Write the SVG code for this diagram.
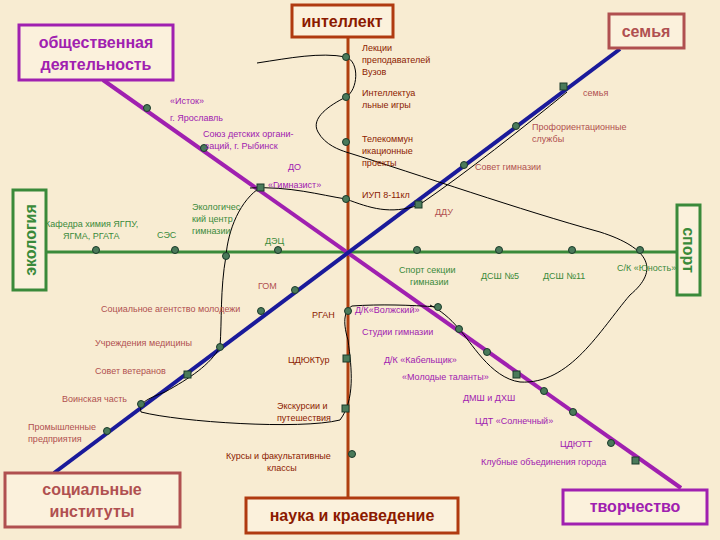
<svg xmlns="http://www.w3.org/2000/svg" width="720" height="540" viewBox="0 0 720 540">
<style>
text{font-family:"Liberation Sans",Arial,sans-serif;font-size:9px}
.p{fill:#a020b0}.r{fill:#8b1a00}.b{fill:#b05050}.g{fill:#3a8a3a}
.t{font-size:16px;font-weight:bold}
.d{fill:#4a7a5a;stroke:#1a3a2a;stroke-width:1}
.c{fill:none;stroke:#000;stroke-width:1}
</style>
<rect width="720" height="540" fill="#f8ecd2"/>
<g id="connectors">
<line x1="348" y1="37" x2="348" y2="497" stroke="#b04010" stroke-width="3"/>
<line x1="46" y1="252" x2="677" y2="252" stroke="#3a8a3a" stroke-width="3"/>
<line x1="103" y1="80" x2="681" y2="488" stroke="#a020b0" stroke-width="4"/>
<line x1="54" y1="473" x2="620" y2="49" stroke="#1a1a9a" stroke-width="4"/>
<path class="c" d="M257,63 C290,58 320,52 346,57 C360,62 358,90 346,97 C330,105 310,118 318,132 C325,145 340,150 346,152 C420,175 520,210 600,232 C650,248 660,270 630,295 C600,330 570,385 520,382 C490,378 470,340 459,329 C450,318 440,310 430,305"/>
<path class="c" d="M250,188 C290,186 320,195 346,199 C370,208 390,215 419,205 C470,170 520,130 567,92"/>
<path class="c" d="M261,187 C240,200 228,230 226,256 C220,290 222,320 220,347 C210,365 190,378 165,392 C150,398 138,402 141,412 C180,422 300,430 340,420 C355,400 352,370 348,340 C342,320 345,310 352,306 C380,304 410,305 438,307"/>
</g>
<g id="dots">
<circle class="d" cx="147" cy="108" r="3.5"/><circle class="d" cx="204" cy="148" r="3.5"/><rect class="d" x="257" y="184" width="7" height="7"/>
<circle class="d" cx="438" cy="307" r="3.5"/><circle class="d" cx="459" cy="329" r="3.5"/><circle class="d" cx="487" cy="352" r="3.5"/><rect class="d" x="513" y="371" width="7" height="7"/><circle class="d" cx="544" cy="391" r="3.5"/><circle class="d" cx="573" cy="412" r="3.5"/><circle class="d" cx="611" cy="443" r="3.5"/><rect class="d" x="632" y="457" width="7" height="7"/>
<circle class="d" cx="346" cy="57" r="3.5"/><circle class="d" cx="346" cy="97" r="3.5"/><circle class="d" cx="346" cy="142" r="3.5"/><circle class="d" cx="346" cy="199" r="3.5"/><circle class="d" cx="348" cy="311" r="3.5"/><rect class="d" x="343" y="355" width="7" height="7"/><rect class="d" x="342" y="405" width="7" height="7"/><circle class="d" cx="352" cy="454" r="3.5"/>
<circle class="d" cx="96" cy="250" r="3.5"/><circle class="d" cx="175" cy="250" r="3.5"/><circle class="d" cx="226" cy="256" r="3.5"/><circle class="d" cx="278" cy="250" r="3.5"/><circle class="d" cx="417" cy="250" r="3.5"/><circle class="d" cx="499" cy="250" r="3.5"/><circle class="d" cx="572" cy="250" r="3.5"/><circle class="d" cx="640" cy="250" r="3.5"/>
<rect class="d" x="560" y="83" width="7" height="7"/><circle class="d" cx="516" cy="126" r="3.5"/><circle class="d" cx="464" cy="165" r="3.5"/><rect class="d" x="415" y="201" width="7" height="7"/><circle class="d" cx="295" cy="290" r="3.5"/><circle class="d" cx="261" cy="311" r="3.5"/><circle class="d" cx="220" cy="347" r="3.5"/><rect class="d" x="184" y="371" width="7" height="7"/><circle class="d" cx="141" cy="404" r="3.5"/><circle class="d" cx="107" cy="431" r="3.5"/>
</g>
<g id="n-intellect"><rect x="292" y="5" width="101" height="32" fill="#fbf1dc" stroke="#b03a10" stroke-width="3"/><text x="342" y="27" text-anchor="middle" class="r t">интеллект</text></g>
<g id="n-semya"><rect x="609" y="14" width="75" height="34" fill="#fbf1dc" stroke="#b05050" stroke-width="3"/><text x="646" y="37" text-anchor="middle" class="b t">семья</text></g>
<g id="n-obsh"><rect x="19" y="25" width="154" height="55" fill="#fbf1dc" stroke="#a020b0" stroke-width="3"/><text x="96" y="48" text-anchor="middle" class="p t">общественная</text><text x="96" y="70" text-anchor="middle" class="p t">деятельность</text></g>
<g id="n-eco"><rect x="13" y="190" width="33" height="100" fill="#fbf1dc" stroke="#3a8a3a" stroke-width="3"/><text transform="translate(36,240) rotate(-90)" text-anchor="middle" class="g t">экология</text></g>
<g id="n-sport"><rect x="677" y="205" width="23" height="90" fill="#fbf1dc" stroke="#3a8a3a" stroke-width="3"/><text transform="translate(683,250) rotate(90)" text-anchor="middle" class="g t">спорт</text></g>
<g id="n-soc"><rect x="5" y="473" width="175" height="54" fill="#fbf1dc" stroke="#b05050" stroke-width="3"/><text x="92" y="495" text-anchor="middle" class="b t">социальные</text><text x="92" y="517" text-anchor="middle" class="b t">институты</text></g>
<g id="n-nauka"><rect x="246" y="498" width="212" height="35" fill="#fbf1dc" stroke="#b03a10" stroke-width="3"/><text x="352" y="521" text-anchor="middle" class="r t">наука и краеведение</text></g>
<g id="n-tvor"><rect x="563" y="490" width="144" height="34" fill="#fbf1dc" stroke="#a020b0" stroke-width="3"/><text x="635" y="512" text-anchor="middle" class="p t">творчество</text></g>
<g id="labels">
<text class="p" x="170" y="104">«Исток»</text><text class="p" x="170" y="121">г. Ярославль</text><text class="p" x="203" y="137">Союз детских органи-</text><text class="p" x="205" y="149">заций, г. Рыбинск</text><text class="p" x="288" y="170">ДО</text><text class="p" x="268" y="188">«Гимназист»</text>
<text class="p" x="355" y="313">Д/К«Волжский»</text><text class="p" x="362" y="335">Студии гимназии</text><text class="p" x="384" y="363">Д/К «Кабельщик»</text><text class="p" x="402" y="380">«Молодые таланты»</text><text class="p" x="463" y="401">ДМШ и ДХШ</text><text class="p" x="475" y="424">ЦДТ «Солнечный»</text><text class="p" x="560" y="447">ЦДЮТТ</text><text class="p" x="481" y="465">Клубные объединения города</text>
<text class="r" x="362" y="51">Лекции</text><text class="r" x="362" y="63">преподавателей</text><text class="r" x="362" y="75">Вузов</text><text class="r" x="362" y="96">Интеллектуа</text><text class="r" x="362" y="108">льные игры</text><text class="r" x="362" y="142">Телекоммун</text><text class="r" x="362" y="154">икационные</text><text class="r" x="362" y="166">проекты</text><text class="r" x="362" y="198">ИУП  8-11кл</text>
<text class="r" x="312" y="318">РГАН</text><text class="r" x="288" y="363">ЦДЮКТур</text><text class="r" x="277" y="409">Экскурсии и</text><text class="r" x="277" y="421">путешествия</text><text class="r" x="226" y="459">Курсы и факультативные</text><text class="r" x="267" y="471">классы</text>
<text class="b" x="583" y="96">семья</text><text class="b" x="532" y="130">Профориентационные</text><text class="b" x="532" y="142">службы</text><text class="b" x="475" y="170">Совет гимназии</text><text class="b" x="435" y="215">ДДУ</text><text class="b" x="258" y="289">ГОМ</text><text class="b" x="101" y="312">Социальное агентство молодежи</text><text class="b" x="95" y="346">Учреждения медицины</text><text class="b" x="95" y="374">Совет ветеранов</text><text class="b" x="62" y="402">Воинская часть</text><text class="b" x="28" y="430">Промышленные</text><text class="b" x="28" y="442">предприятия</text>
<text class="g" x="45" y="227">Кафедра химия ЯГПУ,</text><text class="g" x="63" y="239">ЯГМА, РГАТА</text><text class="g" x="157" y="238">СЭС</text><text class="g" x="192" y="210">Экологичес</text><text class="g" x="192" y="222">кий центр</text><text class="g" x="192" y="234">гимназии</text><text class="g" x="265" y="244">ДЭЦ</text><text class="g" x="399" y="273">Спорт секции</text><text class="g" x="410" y="285">гимназии</text><text class="g" x="481" y="279">ДСШ №5</text><text class="g" x="543" y="279">ДСШ №11</text><text class="g" x="617" y="271">С/К «Юность»</text>
</g>
</svg>
